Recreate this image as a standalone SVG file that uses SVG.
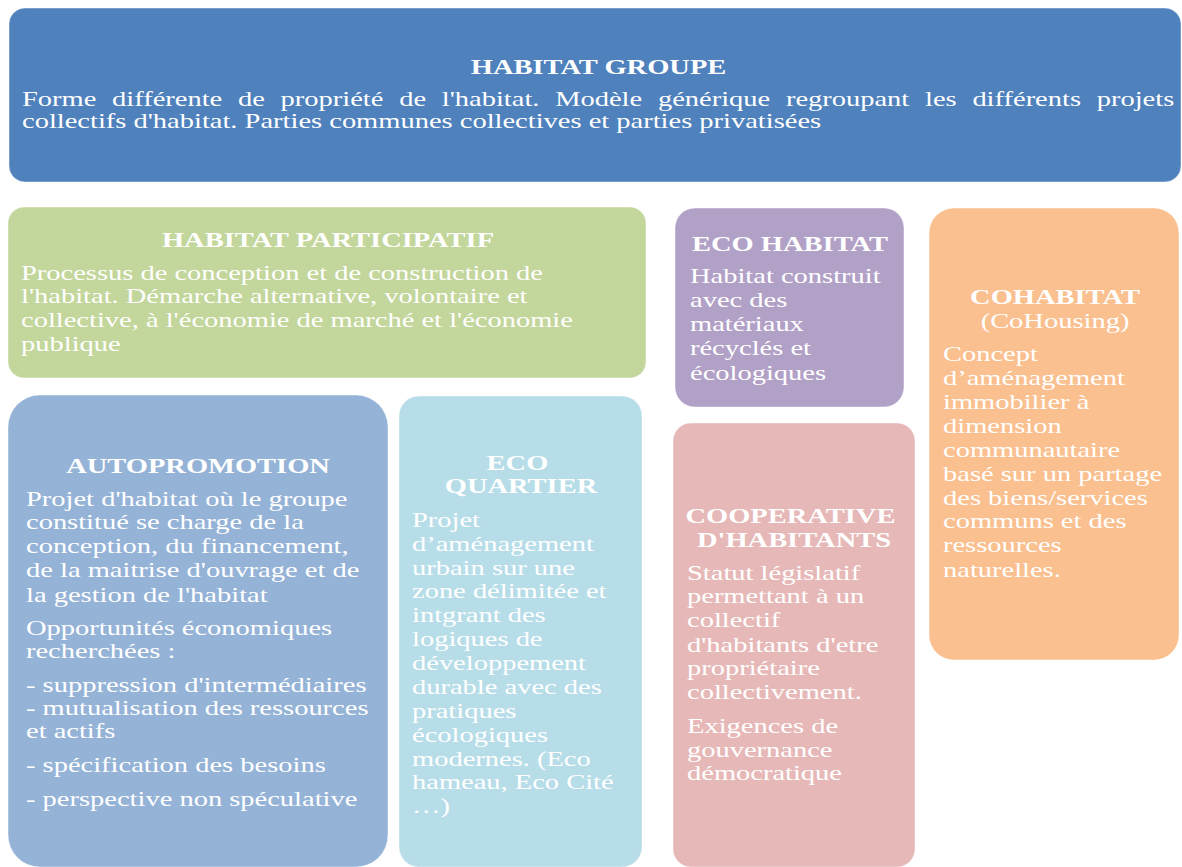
<svg xmlns="http://www.w3.org/2000/svg" width="1182" height="867" viewBox="0 0 1182 867">
<style>
.t { font-family: "Liberation Serif", "Times New Roman", serif; font-size: 21px; fill: #ffffff; }
.b { font-weight: bold; }
.c { text-anchor: middle; }
.box { stroke: #ffffff; stroke-opacity: 0.45; stroke-width: 1; }
</style>
<rect x="0" y="0" width="1182" height="867" fill="#ffffff"/>
<g id="connectors"></g>

<g id="habitat-groupe">
  <rect class="box" x="9" y="8" width="1172" height="174" rx="16" fill="#4F81BD"/>
  <text class="t b c" transform="matrix(1.357 0 0 1 598.5 0)" x="0" y="74">HABITAT GROUPE</text>
  <text class="t" transform="matrix(1.357 0 0 1 22 0)">
    <tspan x="0" y="106" word-spacing="6.35">Forme différente de propriété de l'habitat. Modèle générique regroupant les différents projets</tspan>
    <tspan x="0" y="128">collectifs d'habitat. Parties communes collectives et parties privatisées</tspan>
  </text>
</g>

<g id="habitat-participatif">
  <rect class="box" x="8" y="207" width="638" height="171" rx="16" fill="#C3D69B"/>
  <text class="t b c" transform="matrix(1.357 0 0 1 328 0)" x="0" y="247">HABITAT PARTICIPATIF</text>
  <text class="t" transform="matrix(1.357 0 0 1 21 0)">
    <tspan x="0" y="280">Processus de conception et de construction de</tspan>
    <tspan x="0" y="303">l'habitat. Démarche alternative, volontaire et</tspan>
    <tspan x="0" y="327">collective, à l'économie de marché et l'économie</tspan>
    <tspan x="0" y="351">publique</tspan>
  </text>
</g>

<g id="eco-habitat">
  <rect class="box" x="675" y="208" width="229" height="199" rx="20" fill="#B2A1C7"/>
  <text class="t b c" transform="matrix(1.357 0 0 1 790 0)" x="0" y="251">ECO HABITAT</text>
  <text class="t" transform="matrix(1.357 0 0 1 690 0)">
    <tspan x="0" y="283">Habitat construit</tspan>
    <tspan x="0" y="307">avec des</tspan>
    <tspan x="0" y="331">matériaux</tspan>
    <tspan x="0" y="355">récyclés et</tspan>
    <tspan x="0" y="380">écologiques</tspan>
  </text>
</g>

<g id="cohabitat">
  <rect class="box" x="929" y="208" width="250" height="452" rx="25" fill="#FAC090"/>
  <text class="t b c" transform="matrix(1.357 0 0 1 1055 0)" x="0" y="304">COHABITAT</text>
  <text class="t c" transform="matrix(1.357 0 0 1 1055 0)" x="0" y="328">(CoHousing)</text>
  <text class="t" transform="matrix(1.357 0 0 1 943 0)">
    <tspan x="0" y="361">Concept</tspan>
    <tspan x="0" y="385">d’aménagement</tspan>
    <tspan x="0" y="409">immobilier à</tspan>
    <tspan x="0" y="433">dimension</tspan>
    <tspan x="0" y="457">communautaire</tspan>
    <tspan x="0" y="481">basé sur un partage</tspan>
    <tspan x="0" y="505">des biens/services</tspan>
    <tspan x="0" y="528">communs et des</tspan>
    <tspan x="0" y="552">ressources</tspan>
    <tspan x="0" y="577">naturelles.</tspan>
  </text>
</g>

<g id="autopromotion">
  <rect class="box" x="8" y="395" width="380" height="472" rx="32" fill="#95B3D7"/>
  <text class="t b c" transform="matrix(1.357 0 0 1 198 0)" x="0" y="473">AUTOPROMOTION</text>
  <text class="t" transform="matrix(1.357 0 0 1 26 0)">
    <tspan x="0" y="506">Projet d'habitat où le groupe</tspan>
    <tspan x="0" y="529">constitué se charge de la</tspan>
    <tspan x="0" y="553">conception, du financement,</tspan>
    <tspan x="0" y="577">de la maitrise d'ouvrage et de</tspan>
    <tspan x="0" y="602">la gestion de l'habitat</tspan>
    <tspan x="0" y="635">Opportunités économiques</tspan>
    <tspan x="0" y="658">recherchées :</tspan>
    <tspan x="0" y="692">- suppression d'intermédiaires</tspan>
    <tspan x="0" y="715">- mutualisation des ressources</tspan>
    <tspan x="0" y="738">et actifs</tspan>
    <tspan x="0" y="772">- spécification des besoins</tspan>
    <tspan x="0" y="806">- perspective non spéculative</tspan>
  </text>
</g>

<g id="eco-quartier">
  <rect class="box" x="399" y="396" width="243" height="471" rx="20" fill="#B7DDE8"/>
  <text class="t b c" transform="matrix(1.357 0 0 1 521 0)">
    <tspan x="0" y="470">ECO</tspan>
    <tspan x="0" y="493">QUARTIER</tspan>
  </text>
  <text class="t" transform="matrix(1.357 0 0 1 412 0)">
    <tspan x="0" y="527">Projet</tspan>
    <tspan x="0" y="551">d’aménagement</tspan>
    <tspan x="0" y="575">urbain sur une</tspan>
    <tspan x="0" y="598">zone délimitée et</tspan>
    <tspan x="0" y="622">intgrant des</tspan>
    <tspan x="0" y="646">logiques de</tspan>
    <tspan x="0" y="670">développement</tspan>
    <tspan x="0" y="694">durable avec des</tspan>
    <tspan x="0" y="718">pratiques</tspan>
    <tspan x="0" y="742">écologiques</tspan>
    <tspan x="0" y="766">modernes. (Eco</tspan>
    <tspan x="0" y="789">hameau, Eco Cité</tspan>
    <tspan x="0" y="813">…)</tspan>
  </text>
</g>

<g id="cooperative-habitants">
  <rect class="box" x="673" y="423" width="242" height="444" rx="18" fill="#E6B9B8"/>
  <text class="t b c" transform="matrix(1.357 0 0 1 794 0)">
    <tspan x="0" y="523">COOPERATIVE</tspan>
    <tspan x="0" y="547">D'HABITANTS</tspan>
  </text>
  <text class="t" transform="matrix(1.357 0 0 1 687 0)">
    <tspan x="0" y="580">Statut législatif</tspan>
    <tspan x="0" y="603">permettant à un</tspan>
    <tspan x="0" y="627">collectif</tspan>
    <tspan x="0" y="652">d'habitants d'etre</tspan>
    <tspan x="0" y="675">propriétaire</tspan>
    <tspan x="0" y="699">collectivement.</tspan>
    <tspan x="0" y="733">Exigences de</tspan>
    <tspan x="0" y="757">gouvernance</tspan>
    <tspan x="0" y="780">démocratique</tspan>
  </text>
</g>
</svg>
